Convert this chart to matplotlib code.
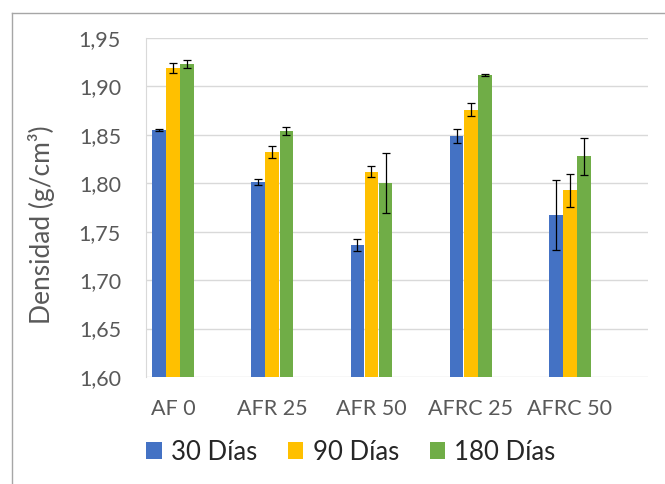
import matplotlib.pyplot as plt
import numpy as np
from matplotlib.lines import Line2D

categories = ["AF 0", "AFR 25", "AFR 50", "AFRC 25", "AFRC 50"]
series = ["30 Días", "90 Días", "180 Días"]
values = [
    [1.855, 1.801, 1.736, 1.849, 1.767],
    [1.919, 1.832, 1.812, 1.876, 1.793],
    [1.923, 1.854, 1.800, 1.912, 1.828],
]
errors = [
    [0.001, 0.003, 0.006, 0.007, 0.036],
    [0.005, 0.006, 0.006, 0.007, 0.017],
    [0.004, 0.004, 0.031, 0.001, 0.019],
]
colors = ["#4472C4", "#FFC000", "#70AD47"]
text_color = "#595959"

plt.rcParams['font.family'] = ['Lato', 'DejaVu Sans']

fig = plt.figure(figsize=(6.65, 4.84), dpi=100)
ax = fig.add_axes([146 / 665, 1 - 377 / 484, (648 - 146) / 665, (377 - 38) / 484])

x = np.arange(len(categories))
w = 0.142
for i, (vals, errs, c) in enumerate(zip(values, errors, colors)):
    ax.bar(x + (i - 1) * w, vals, w * 0.97, color=c, label=series[i], zorder=2,
           yerr=errs, error_kw=dict(ecolor="black", elinewidth=0.9, capsize=3, capthick=0.9))

ax.set_ylim(1.60, 1.95)
ax.set_xlim(-0.272, 4.786)
ticks = np.arange(1.60, 1.951, 0.05)
ax.set_yticks(ticks)
ax.set_yticklabels([f"{t:.2f}".replace(".", ",") for t in ticks])
ax.set_xticks(x)
ax.set_xticklabels(categories)
ax.tick_params(length=0, labelsize=15.5, colors=text_color)
ax.tick_params(axis="y", pad=18)
ax.tick_params(axis="x", pad=16)
ax.grid(axis="y", color="#D9D9D9", linewidth=1, zorder=0)
for s in ["top", "right", "bottom"]:
    ax.spines[s].set_visible(False)
ax.spines["left"].set_color("#D9D9D9")
ax.set_ylabel("Densidad (g/cm³)", fontsize=19, color=text_color)
ax.yaxis.set_label_coords(-(146 - 55) / 502, 1 - (225 - 38) / 339)

fig.legend(*ax.get_legend_handles_labels(), loc="center", bbox_to_anchor=(351 / 665, 1 - 452 / 484),
           ncol=3, frameon=False, fontsize=18.5, handlelength=0.6, handleheight=0.6,
           handletextpad=0.36, columnspacing=1.2, labelcolor="#262626")

# outer chart frame (left and top edges visible)
fig.add_artist(Line2D([12 / 665, 12 / 665], [0, 1 - 13 / 484], color="#A6A6A6", lw=1))
fig.add_artist(Line2D([12 / 665, 1], [1 - 13 / 484, 1 - 13 / 484], color="#A6A6A6", lw=1))

fig.savefig("out.png", dpi=100)
